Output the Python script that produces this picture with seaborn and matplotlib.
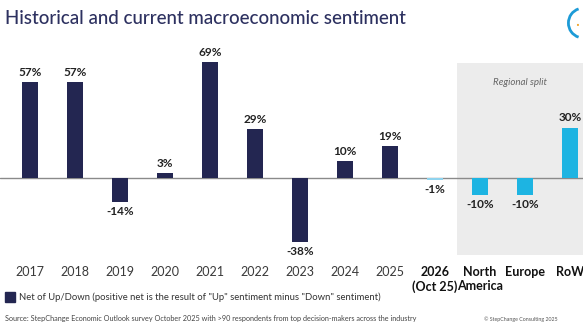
import pandas as pd
import seaborn as sns
import matplotlib.pyplot as plt
from matplotlib.patches import Rectangle, Arc

#-------------------------------------------------------------------------------
# data
categories = ['2017', '2018', '2019', '2020', '2021', '2022', '2023', '2024', '2025',
              '2026\n(Oct 25)', 'North\nAmerica', 'Europe', 'RoW']
values = [57, 57, -14, 3, 69, 29, -38, 10, 19, -1, -10, -10, 30]
labels = ['57%', '57%', '-14%', '3%', '69%', '29%', '-38%', '10%', '19%', '-1%', '-10%', '-10%', '30%']
bold_ticks = ['2026\n(Oct 25)', 'North\nAmerica', 'Europe', 'RoW']

navy = '#232651'
cyan = '#1db4e2'
palette = {c: navy for c in categories[:9]}
palette['2026\n(Oct 25)'] = '#8fd3ee'
for c in categories[10:]:
    palette[c] = cyan

df = pd.DataFrame({'cat': categories, 'val': values})

#-------------------------------------------------------------------------------
# plot
sns.set_theme(style='white')
plt.rcParams['font.family'] = ['Lato', 'DejaVu Sans']

fig = plt.figure(figsize=(5.83, 3.29), dpi=100)
ax = fig.add_axes([0, 0.216, 1, 0.662])

# regional split background
ax.add_patch(Rectangle((9.5, -45.8), 5, 114.3, color='#ececec', zorder=0, lw=0))
ax.text(10.9, 57, 'Regional split', ha='center', va='center', fontsize=7,
        style='italic', color='#666666')

sns.barplot(data=df, x='cat', y='val', hue='cat', palette=palette, width=0.36,
            legend=False, ax=ax, zorder=3, saturation=1, edgecolor='none')
ax.axhline(0, color='#8a8a8a', lw=1, zorder=2)

for i, (v, lab) in enumerate(zip(values, labels)):
    if v >= 0:
        ax.text(i, v + 2.5, lab, ha='center', va='bottom', fontsize=8.5,
                fontweight='bold', color='#222222')
    else:
        ax.text(i, v - 2.5, lab, ha='center', va='top', fontsize=8.5,
                fontweight='bold', color='#222222')

ax.set_xlim(-0.667, 12.29)
ax.set_ylim(-47.6, 82.1)
ax.set_yticks([])
ax.tick_params(axis='x', length=0, pad=6, labelsize=9, colors='#3a3a3a')
for t in ax.get_xticklabels():
    if t.get_text() in bold_ticks:
        t.set_fontweight('bold')
        t.set_color('#111111')
ax.set_xlabel('')
ax.set_ylabel('')
for s in ax.spines.values():
    s.set_visible(False)
ax.patch.set_alpha(0)

# title + logo
fig.text(0.009, 0.945, 'Historical and current macroeconomic sentiment', fontsize=13.5,
         color='#2d3160', ha='left', va='center', fontweight='medium')
fig.add_artist(Arc((1.0, 0.93), 0.05, 0.09, theta1=100, theta2=260,
                   transform=fig.transFigure, color='#1d9bd7', lw=2))
fig.text(0.99, 0.935, '.', color='#f0a020', fontsize=12, ha='center', va='center')

# legend
fig.add_artist(Rectangle((0.009, 0.083), 0.017, 0.028, transform=fig.transFigure,
                         color=navy))
fig.text(0.032, 0.097, 'Net of Up/Down (positive net is the result of "Up" sentiment minus "Down" sentiment)',
         fontsize=6.8, color='#333333', va='center')
fig.text(0.009, 0.033, 'Source: StepChange Economic Outlook survey October 2025 with >90 respondents from top decision-makers across the industry',
         fontsize=5.2, color='#444444', va='center')
fig.text(0.83, 0.030, '© StepChange Consulting 2025', fontsize=3.8, color='#555555', va='center')

fig.savefig('out.png', dpi=100)
